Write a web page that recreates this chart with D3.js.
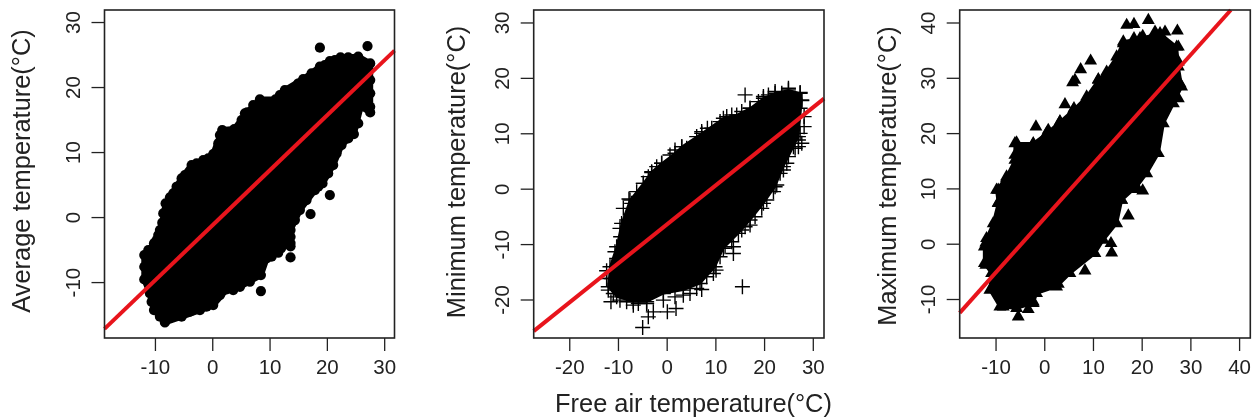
<!DOCTYPE html>
<html lang="en">
<head>
    <meta charset="utf-8">
    <script src="https://d3js.org/d3.v7.min.js"></script>
    <style>
        body { margin: 0; background: #fff; }
        svg { display: block; filter: blur(0.35px); }
        text { font-family: "Liberation Sans", Arial, sans-serif; fill: #222; }
        .tick line { stroke: #222; stroke-width: 1.3px; }
        .tick text { font-size: 20.5px; }
        .title { font-size: 25.4px; }
    </style>
</head>
<body>
<div id="chart"></div>
<script type="text/javascript">
    // values. the dense clouds are kept as their outline
    // plus the markers that can be told apart on the edge
    var avgXTicks = [-10, 0, 10, 20, 30];
    var avgYTicks = [-10, 0, 10, 20, 30];
    var avgFitX = [-18.8, 31.8];
    var avgFitY = [-17.2, 25.6];
    var avgCloudX = [-11.86, -11.86, -11.86, -10.17, -9.42, -8.72, -8.14, -7.38, -5.35, -3.6, -0.7, 0.17, 1.74, 3.84, 6.1, 8.31, 11.05, 12.67, 15.87, 18.78, 20.52, 22.38, 25.47, 27.56, 27.56, 25.9, 24.71, 22.56, 21.1, 19.24, 17.91, 15.29, 13.66, 13.66, 12, 11.51, 9.48, 8.49, 4.83, 2.5, 0.17, -2.15, -5.35, -8.26, -10.17, -10.87];
    var avgCloudY = [-9.59, -7.64, -5.85, -4.05, -2.77, -0.87, 2.1, 3.03, 5.95, 8, 9.03, 9.69, 13.38, 13.54, 16.1, 18.1, 18.1, 19.54, 21.23, 23.13, 24, 24.56, 24.67, 23.64, 16.1, 17, 12.77, 11.08, 8, 5.18, 4.15, 1.08, -2, -4, -4.8, -5.49, -6.36, -8.92, -10.72, -11.13, -13.54, -14.31, -15.33, -16.21, -14.31, -11.74];
    var avgEdgeX = [18.78, 27.09, 20.52, 17.15, 8.49, -11.16, -9.71, -9.13, -8.55, -6.8, -6.22, -4.77, -2.73, -1.57, 1.05, 1.34, 5.12, 5.7, 7.15, 9.48, 11.8, 14.13, 15, 17.33, 19.65, 21.4, 23.72, 27.21, 27.56, 27.56, 27.56, 25.47, 23.72, 21.69, 20.23, 18.49, 16.45, 14.42, 13.66, 13.66, 13.66, 10.35, 8.49, 6.57, 3.66, 1.34, 0.17, -0.99, -3.9, -6.8, -9.13, -10.58];
    var avgEdgeY = [26.05, 26.31, 3.38, 0.46, -11.38, -5.08, -3.54, -2, 0.56, 3.64, 4.67, 6.46, 8.26, 8.77, 11.33, 12.62, 14.92, 15.95, 17.23, 17.23, 18.77, 19.79, 20.56, 22.1, 23.38, 24.15, 24.56, 22.87, 21.08, 19.03, 16.97, 14.41, 12.1, 9.79, 6.72, 4.67, 2.62, -0.46, -3.03, -4.5, -6.21, -6.1, -7.64, -9.95, -11.23, -12, -12.26, -13.79, -14.56, -15.08, -15.33, -13.03];

    var minXTicks = [-20, -10, 0, 10, 20, 30];
    var minYTicks = [-20, -10, 0, 10, 20, 30];
    var minFitX = [-27.3, 32.3];
    var minFitY = [-25.7, 16.25];
    var minCloudX = [-11.99, -10.27, -6.85, -4.11, -0.68, 3.42, 6.85, 9.93, 11.64, 14.73, 17.12, 19.86, 22.26, 23.97, 26.03, 27.05, 27.74, 27.4, 25, 22.26, 19.86, 17.12, 14.38, 11.64, 7.19, 3.11, 1.71, -1.03, -3.08, -4.79, -7.53, -9.25, -10.27, -11.64];
    var minCloudY = [-17.71, -19.52, -20.42, -20.42, -18.92, -18.31, -17.11, -14.1, -10.78, -8.07, -5.66, -2.65, 0.36, 3.98, 7.59, 9.4, 16.02, 17.23, 17.83, 17.23, 16.33, 14.52, 13.31, 12.71, 10, 7.59, 6.39, 4.58, 3.07, 0.96, -2.05, -6.27, -10.48, -14.1];
    var minEdgeX = [-7.74, -9.59, -12.33, -12.33, -11.44, -11.99, -10.62, -8.9, -4.79, -3.08, -1.03, 1.71, 4.11, 7.19, 8.36, 12.33, 16.1, 17.12, 19.86, 22.26, 25, 27.4, 27.74, 27.4, 28.22, 28.22, 27.05, 27.74, 26.37, 24.66, 23.29, 21.92, 19.52, 17.12, 16.1, 13.7, 13.7, 10.14, 7.19, 4.79, 1.92, 0.14, -2.74, -3.77, -5.82, -9.59, -4.93, 15.55, -7.19, -8.22, -9.45, -10.27, -11.3, -10.96, -8.22, -6.85, -4.11, -0.68, 1.71, 3.42, 6.16, 8.22, 9.59, 10.96, 11.99, 13.36, 15.41, 18.15, 20.55, 22.6, 23.97, 25, 27.05, 27.4, 23.63, 20.89, 18.84, 15.41, 13.36, 10.96, 9.25, 6.16, 3.08, 0.68, -2.05, -3.77, -6.16];
    var minEdgeY = [-1.87, -7.17, -14.82, -16.2, -20.42, -18.31, -11.39, -3.55, 0.96, 2.89, 4.58, 6.99, 7.29, 10.3, 10.9, 13.01, 16.93, 14.52, 16.63, 17.53, 18.13, 17.35, 15.9, 14.52, 13.01, 11.2, 8.8, 8.19, 7.29, 4.58, 2.77, -0.54, -3.55, -6.57, -6.87, -10.48, -11.69, -14.7, -18.19, -18.92, -21.63, -22.23, -22.23, -23.13, -20.72, -20.12, -25.06, -17.71, -2.65, -5.66, -8.67, -12.59, -16.2, -18.92, -20.42, -21.02, -20.72, -20.12, -19.52, -19.22, -18.01, -15.9, -15.3, -12.29, -10.48, -9.58, -7.47, -5.06, -2.05, 0.66, 3.37, 5.78, 7.59, 9.99, 17.23, 16.93, 15.72, 13.92, 13.31, 12.11, 10.9, 9.4, 7.59, 6.08, 3.98, 2.17, -0.54];

    var maxXTicks = [-10, 0, 10, 20, 30, 40];
    var maxYTicks = [-10, 0, 10, 20, 30, 40];
    var maxFitX = [-17.36, 38.3];
    var maxFitY = [-12.5, 42.26];
    var maxCloudX = [-12.3, -12.3, -11.85, -10.48, -9.45, -9.79, -7.74, -6.03, -6.03, -2.26, 0.48, 3.22, 5.96, 8.7, 11.1, 12.81, 14.86, 16.23, 19.66, 23.77, 27.19, 27.53, 28.2, 26.51, 24.45, 23.42, 21.03, 18.97, 15.89, 14.86, 12.12, 10.41, 5.27, 2.53, -1.58, -2.26, -5.68, -9.11, -11.16, -10.82];
    var maxCloudY = [-3.55, -0.54, 0.96, 3.67, 7.29, 9.7, 12.11, 15.12, 18.13, 18.13, 19.94, 22.05, 24.16, 26.57, 29.58, 31.08, 33.8, 36.51, 37.11, 38.01, 35.6, 31.99, 28.37, 25.36, 21.75, 16.33, 12.71, 10.3, 7.89, 3.67, 0.66, -1.75, -5.36, -7.77, -8.98, -10.78, -11.69, -11.39, -8.37, -5.36];
    var maxEdgeX = [21.37, 16.92, 18.42, 27.33, 24.79, 22.74, 20.21, 18.42, 16.23, 9.52, 7.47, 6.3, 5.82, 11.1, 4.25, 6.1, 3.22, -1.71, 0.82, -5.68, -2.26, -6.03, -7.74, -9.45, -9.45, -11.99, -11.99, -5.34, -3.29, -2.26, -8.42, 2.88, 4.59, 8.36, 13.84, 13.7, 17.26, 20.21, 18.63, 15.89, 27.53, 27.53, 27.88, 22.74, 27.53];
    var maxEdgeY = [40.42, 39.52, 39.7, 38.49, 38.31, 38.31, 37.53, 37.11, 36.2, 33.07, 31.51, 29.58, 29.16, 29.7, 25.18, 24.46, 22.05, 21.14, 20.54, 18.25, 18.01, 16.02, 11.81, 9.7, 7.41, 0.18, -3.86, -13.19, -11.87, -10.48, -11.39, -7.29, -5.36, -4.88, -1.63, 0.06, 5.06, 9.58, 9.82, 7.89, 35.6, 26.27, 28.98, 16.33, 32.89];

    var svg = d3.select("#chart").append("svg")
        .attr("width", 1255)
        .attr("height", 419);

    function zip(xs, ys) {
        return xs.map(function (d, i) { return [d, ys[i]]; });
    }

    function drawPanel(p) {
        var x = d3.scaleLinear().domain(p.xDomain).range([p.left, p.right]);
        var y = d3.scaleLinear().domain(p.yDomain).range([338, 10]);
        var g = svg.append("g");

        // solid body of the cloud
        var outline = d3.line()
            .x(function (d) { return x(d[0]); })
            .y(function (d) { return y(d[1]); })
            .curve(d3.curveLinearClosed);
        g.append("path")
            .attr("d", outline(zip(p.cloudX, p.cloudY)))
            .attr("fill", "#000")
            .attr("stroke", "#000")
            .attr("stroke-linejoin", "round")
            .attr("stroke-width", p.grow);

        // edge markers
        g.selectAll("path.pt")
            .data(zip(p.cloudX.concat(p.edgeX), p.cloudY.concat(p.edgeY)))
            .enter().append("path")
            .attr("class", "pt")
            .attr("transform", function (d) { return "translate(" + x(d[0]) + "," + y(d[1]) + ")"; })
            .attr("d", p.symbol)
            .attr("fill", p.filled ? "#000" : "none")
            .attr("stroke", p.filled ? "none" : "#000")
            .attr("stroke-width", 1.4);

        // fitted line
        g.append("line")
            .attr("x1", x(p.fitX[0])).attr("y1", y(p.fitY[0]))
            .attr("x2", x(p.fitX[1])).attr("y2", y(p.fitY[1]))
            .attr("stroke", "#e8141c")
            .attr("stroke-width", 4);

        var xAxis = g.append("g")
            .attr("transform", "translate(0,338)")
            .call(d3.axisBottom(x).tickValues(p.xTicks).tickSize(13).tickPadding(8).tickFormat(String));
        xAxis.select(".domain").remove();

        var yAxis = g.append("g")
            .attr("transform", "translate(" + p.left + ",0)")
            .call(d3.axisLeft(y).tickValues(p.yTicks).tickSize(13).tickFormat(String));
        yAxis.select(".domain").remove();
        yAxis.selectAll(".tick text")
            .attr("x", null).attr("dy", null)
            .attr("text-anchor", "middle")
            .attr("transform", "translate(-24.5,0) rotate(-90)");

        g.append("rect")
            .attr("x", p.left).attr("y", 10)
            .attr("width", p.right - p.left).attr("height", 328)
            .attr("fill", "none")
            .attr("stroke", "#222")
            .attr("stroke-width", 1.6);

        g.append("text")
            .attr("class", "title")
            .attr("text-anchor", "middle")
            .attr("transform", "translate(" + p.labelX + "," + p.labelY + ") rotate(-90)")
            .text(p.label);
    }

    var triangle = d3.symbol().type(d3.symbolTriangle).size(72)();
    var circle = d3.symbol().type(d3.symbolCircle).size(82)();
    var plus = "M-7.5,0H7.5M0,-7.5V7.5";

    drawPanel({
        left: 104.5, right: 394.5, xDomain: [-18.8, 31.8], yDomain: [-18.6, 31.85],
        xTicks: avgXTicks, yTicks: avgYTicks, fitX: avgFitX, fitY: avgFitY,
        cloudX: avgCloudX, cloudY: avgCloudY, edgeX: avgEdgeX, edgeY: avgEdgeY, grow: 6,
        symbol: circle, filled: true,
        label: "Average temperature(\u00B0C)", labelX: 29.5, labelY: 171
    });
    drawPanel({
        left: 533.7, right: 824, xDomain: [-27.3, 32.3], yDomain: [-26.95, 32.25],
        xTicks: minXTicks, yTicks: minYTicks, fitX: minFitX, fitY: minFitY,
        cloudX: minCloudX, cloudY: minCloudY, edgeX: minEdgeX, edgeY: minEdgeY, grow: 2,
        symbol: plus, filled: false,
        label: "Minimum temperature(\u00B0C)", labelX: 465, labelY: 172
    });
    drawPanel({
        left: 959.7, right: 1250.3, xDomain: [-17.36, 42.3], yDomain: [-17.05, 42.26],
        xTicks: maxXTicks, yTicks: maxYTicks, fitX: maxFitX, fitY: maxFitY,
        cloudX: maxCloudX, cloudY: maxCloudY, edgeX: maxEdgeX, edgeY: maxEdgeY, grow: 3,
        symbol: triangle, filled: true,
        label: "Maximum temperature(\u00B0C)", labelX: 896, labelY: 176
    });

    svg.append("text")
        .attr("class", "title")
        .attr("x", 693.5)
        .attr("y", 411.5)
        .attr("text-anchor", "middle")
        .text("Free air temperature(\u00B0C)");
</script>
</body>
</html>
